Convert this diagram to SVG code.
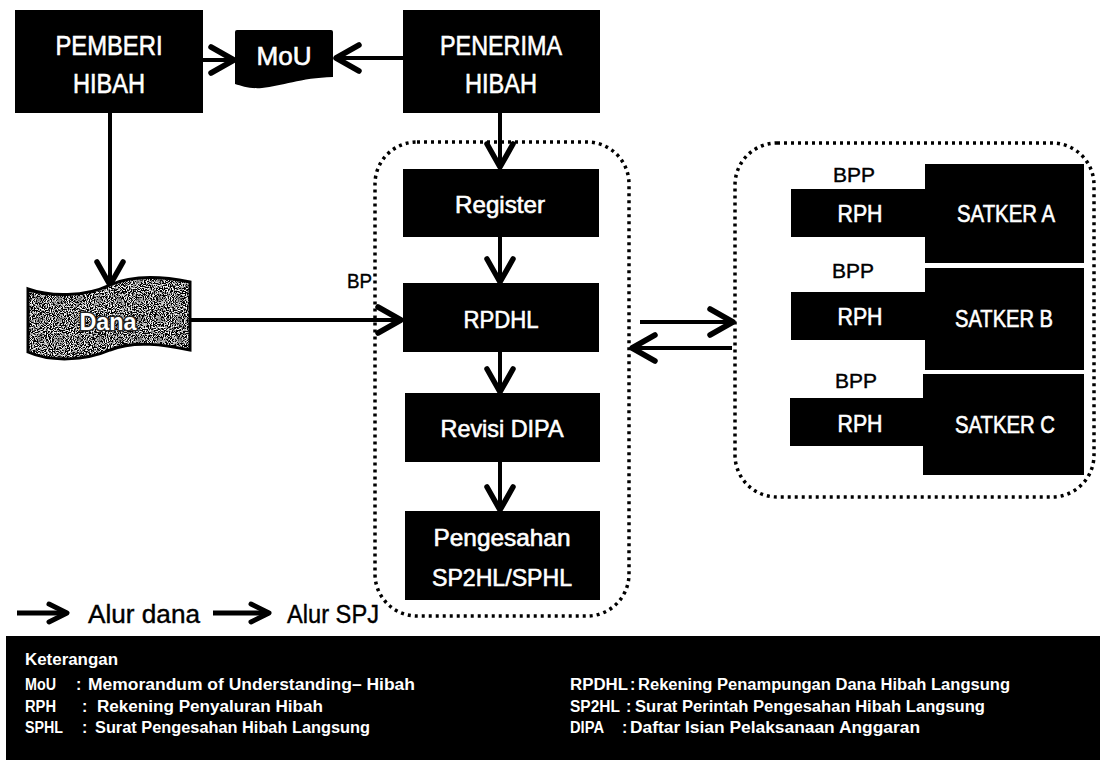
<svg xmlns="http://www.w3.org/2000/svg" width="1100" height="760" viewBox="0 0 1100 760">
<style>
.box{fill:#000}
.lbl{font-family:"Liberation Sans",Arial,sans-serif;fill:#fff;stroke:#fff;stroke-width:0.6;text-anchor:middle}
.blk{font-family:"Liberation Sans",Arial,sans-serif;fill:#000;stroke:#000;stroke-width:0.4}
.conn{stroke:#000;stroke-width:4;fill:none;marker-end:url(#ah)}
.dot{fill:none;stroke:#000;stroke-width:3.5;stroke-dasharray:3 4}
.k{font-family:"Liberation Sans",Arial,sans-serif;font-weight:bold;font-size:16px;fill:#fff}
</style>
<defs>
<marker id="ah" viewBox="-28 -16 32 32" refX="0" refY="0" markerWidth="32" markerHeight="32" orient="auto" markerUnits="userSpaceOnUse">
<path d="M-23,-13 L0,0 L-23,13" fill="none" stroke="#000" stroke-width="5.5" stroke-linecap="round" stroke-linejoin="round"/>
</marker>
<marker id="ahs" viewBox="-24 -13 28 26" refX="0" refY="0" markerWidth="28" markerHeight="26" orient="auto" markerUnits="userSpaceOnUse">
<path d="M-18,-9 L0,0 L-18,9" fill="none" stroke="#000" stroke-width="5" stroke-linecap="round" stroke-linejoin="round"/>
</marker>
<filter id="grain" x="0" y="0" width="100%" height="100%">
<feTurbulence type="fractalNoise" baseFrequency="0.95" numOctaves="1" seed="4" result="n"/>
<feColorMatrix in="n" type="matrix" values="5 0 0 0 -2.3  5 0 0 0 -2.3  5 0 0 0 -2.3  0 0 0 0 1" result="s"/>
<feComposite in="s" in2="SourceGraphic" operator="in"/>
</filter>
</defs>
<rect width="1100" height="760" fill="#fff"/>

<!-- containers -->
<rect id="container-left" class="dot" x="375" y="142" width="254" height="474" rx="42"/>
<rect id="container-right" class="dot" x="735" y="143" width="359" height="354" rx="42"/>

<g id="connectors">
<path class="conn" d="M203,60 H234"/>
<path class="conn" d="M403,58 H336"/>
<path class="conn" d="M110,113 V285"/>
<path class="conn" d="M500,113 V167"/>
<path class="conn" d="M500,237 V282"/>
<path class="conn" d="M500,352 V392"/>
<path class="conn" d="M500,462 V510"/>
<path class="conn" d="M190,320 H401"/>
<path class="conn" d="M640,322 H733"/>
<path class="conn" d="M732,348 H632"/>
</g>

<g id="pemberi-hibah">
<rect class="box" x="15" y="10" width="188" height="103"/>
<text class="lbl" x="109" y="55" font-size="28" textLength="107" lengthAdjust="spacingAndGlyphs">PEMBERI</text>
<text class="lbl" x="109" y="93" font-size="28" textLength="72" lengthAdjust="spacingAndGlyphs">HIBAH</text>
</g>

<g id="mou">
<path class="box" d="M235,32 Q235,30 237,30 H331 Q333,30 333,32 V77 C300,78 282,86 262,88 C250,89 242,86 235,84 Z"/>
<text class="lbl" x="284" y="65" font-size="26" textLength="55" lengthAdjust="spacingAndGlyphs">MoU</text>
</g>

<g id="penerima-hibah">
<rect class="box" x="403" y="10" width="197" height="103"/>
<text class="lbl" x="501" y="55" font-size="28" textLength="122" lengthAdjust="spacingAndGlyphs">PENERIMA</text>
<text class="lbl" x="501" y="93" font-size="28" textLength="72" lengthAdjust="spacingAndGlyphs">HIBAH</text>
</g>

<g id="dana">
<path d="M28,289 C50,297 85,297 110,285 C135,274 165,277 190,282 V350 C165,345 135,340 110,350 C85,361 50,362 28,352 Z" fill="#000" filter="url(#grain)"/>
<path d="M28,289 C50,297 85,297 110,285 C135,274 165,277 190,282 V350 C165,345 135,340 110,350 C85,361 50,362 28,352 Z" fill="none" stroke="#000" stroke-width="3"/>
<text x="108" y="330" font-family="Liberation Sans, Arial, sans-serif" font-size="24" font-weight="bold" text-anchor="middle" fill="#fff" stroke="#222" stroke-width="3" paint-order="stroke" textLength="57" lengthAdjust="spacingAndGlyphs">Dana</text>
</g>

<text id="label-bp" class="blk" x="347" y="288" font-size="21" textLength="25" lengthAdjust="spacingAndGlyphs">BP</text>

<g id="register">
<rect class="box" x="403" y="169" width="196" height="68"/>
<text class="lbl" x="500" y="213" font-size="24" textLength="90" lengthAdjust="spacingAndGlyphs">Register</text>
</g>
<g id="rpdhl">
<rect class="box" x="403" y="283" width="196" height="69"/>
<text class="lbl" x="501" y="328" font-size="24" textLength="75" lengthAdjust="spacingAndGlyphs">RPDHL</text>
</g>
<g id="revisi-dipa">
<rect class="box" x="405" y="393" width="195" height="69"/>
<text class="lbl" x="502" y="437" font-size="24" textLength="123" lengthAdjust="spacingAndGlyphs">Revisi DIPA</text>
</g>
<g id="pengesahan">
<rect class="box" x="405" y="511" width="195" height="89"/>
<text class="lbl" x="502" y="546" font-size="24" textLength="137" lengthAdjust="spacingAndGlyphs">Pengesahan</text>
<text class="lbl" x="502" y="586" font-size="24" textLength="140" lengthAdjust="spacingAndGlyphs">SP2HL/SPHL</text>
</g>

<g id="satker-a">
<rect class="box" x="925" y="164" width="159" height="99"/>
<rect class="box" x="791" y="189" width="136" height="48"/>
<text class="blk" x="833" y="182" font-size="20" textLength="42" lengthAdjust="spacingAndGlyphs">BPP</text>
<text class="lbl" x="860" y="222" font-size="24" textLength="45" lengthAdjust="spacingAndGlyphs">RPH</text>
<text class="lbl" x="1006" y="222" font-size="24" textLength="98" lengthAdjust="spacingAndGlyphs">SATKER A</text>
</g>
<g id="satker-b">
<rect class="box" x="925" y="268" width="159" height="102"/>
<rect class="box" x="791" y="292" width="136" height="48"/>
<text class="blk" x="832" y="278" font-size="20" textLength="42" lengthAdjust="spacingAndGlyphs">BPP</text>
<text class="lbl" x="860" y="325" font-size="24" textLength="45" lengthAdjust="spacingAndGlyphs">RPH</text>
<text class="lbl" x="1004" y="327" font-size="24" textLength="98" lengthAdjust="spacingAndGlyphs">SATKER B</text>
</g>
<g id="satker-c">
<rect class="box" x="923" y="374" width="161" height="101"/>
<rect class="box" x="790" y="398" width="135" height="48"/>
<text class="blk" x="835" y="388" font-size="20" textLength="42" lengthAdjust="spacingAndGlyphs">BPP</text>
<text class="lbl" x="860" y="432" font-size="24" textLength="45" lengthAdjust="spacingAndGlyphs">RPH</text>
<text class="lbl" x="1005" y="433" font-size="24" textLength="100" lengthAdjust="spacingAndGlyphs">SATKER C</text>
</g>

<g id="legend-flow">
<path d="M17,613 H67" stroke="#000" stroke-width="5" fill="none" marker-end="url(#ahs)"/>
<text class="blk" x="88" y="623" font-size="26" textLength="112" lengthAdjust="spacingAndGlyphs">Alur dana</text>
<path d="M213,613 H269" stroke="#000" stroke-width="5" fill="none" marker-end="url(#ahs)"/>
<text class="blk" x="287" y="623" font-size="26" textLength="92" lengthAdjust="spacingAndGlyphs">Alur SPJ</text>
</g>

<g id="keterangan">
<rect x="6" y="636" width="1094" height="124" fill="#000"/>
<text class="k" x="25" y="665" textLength="93" lengthAdjust="spacingAndGlyphs">Keterangan</text>
<text class="k" x="25" y="690" textLength="31" lengthAdjust="spacingAndGlyphs">MoU</text>
<text class="k" x="76" y="690">:</text>
<text class="k" x="88" y="690" textLength="327" lengthAdjust="spacingAndGlyphs">Memorandum of Understanding– Hibah</text>
<text class="k" x="25" y="712" textLength="31" lengthAdjust="spacingAndGlyphs">RPH</text>
<text class="k" x="82" y="712">:</text>
<text class="k" x="97" y="712" textLength="226" lengthAdjust="spacingAndGlyphs">Rekening Penyaluran Hibah</text>
<text class="k" x="25" y="733" textLength="38" lengthAdjust="spacingAndGlyphs">SPHL</text>
<text class="k" x="82" y="733">:</text>
<text class="k" x="95" y="733" textLength="275" lengthAdjust="spacingAndGlyphs">Surat Pengesahan Hibah Langsung</text>
<text class="k" x="570" y="690" textLength="58" lengthAdjust="spacingAndGlyphs">RPDHL</text>
<text class="k" x="630" y="690">:</text>
<text class="k" x="638" y="690" textLength="372" lengthAdjust="spacingAndGlyphs">Rekening Penampungan Dana Hibah Langsung</text>
<text class="k" x="570" y="712" textLength="50" lengthAdjust="spacingAndGlyphs">SP2HL</text>
<text class="k" x="626" y="712">:</text>
<text class="k" x="635" y="712" textLength="350" lengthAdjust="spacingAndGlyphs">Surat Perintah Pengesahan Hibah Langsung</text>
<text class="k" x="570" y="733" textLength="34" lengthAdjust="spacingAndGlyphs">DIPA</text>
<text class="k" x="622" y="733">:</text>
<text class="k" x="630" y="733" textLength="290" lengthAdjust="spacingAndGlyphs">Daftar Isian Pelaksanaan Anggaran</text>
</g>
</svg>
